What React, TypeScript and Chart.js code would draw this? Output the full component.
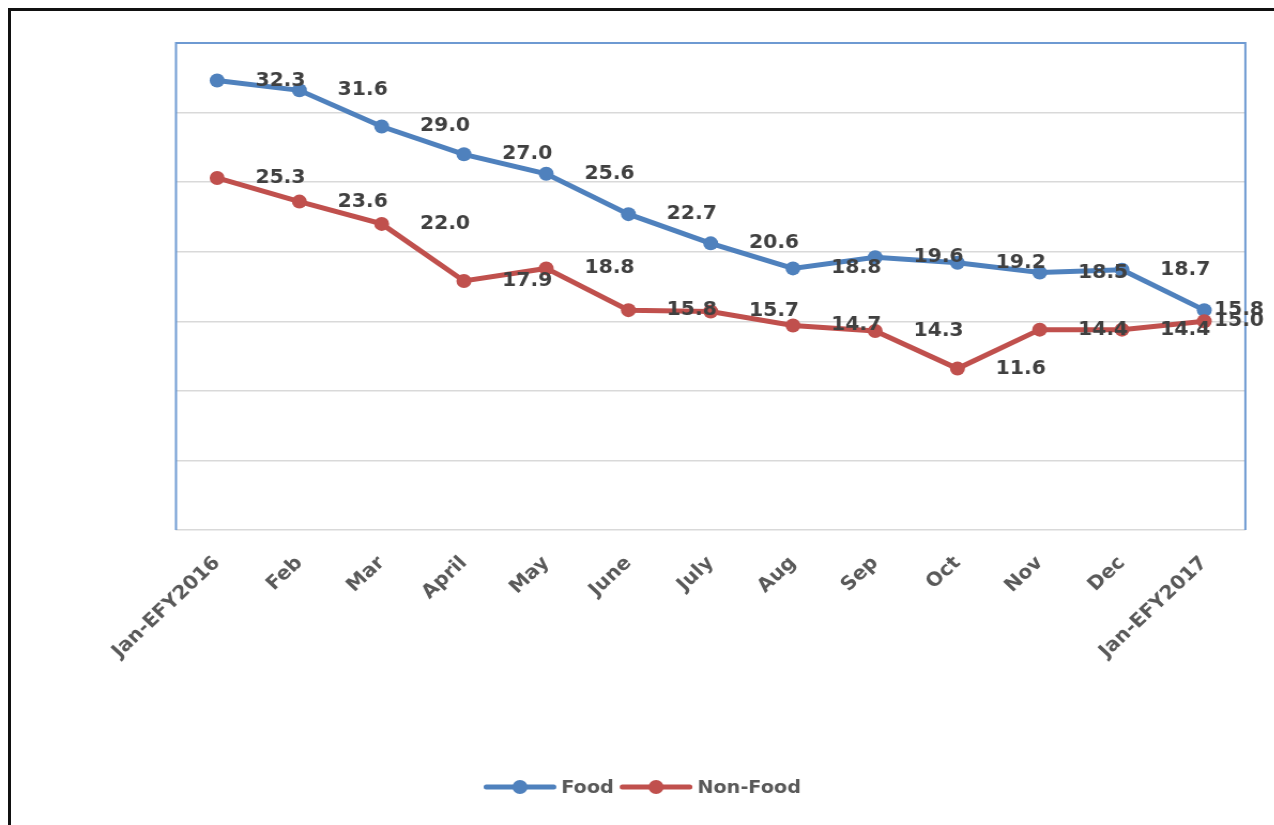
import React, { useEffect, useRef } from "react";
import { Chart, registerables } from "chart.js";

Chart.register(...registerables);

const categories = [
  "Jan-EFY2016", "Feb", "Mar", "April", "May", "June", "July",
  "Aug", "Sep", "Oct", "Nov", "Dec", "Jan-EFY2017",
];
const foodValues = [32.3, 31.6, 29.0, 27.0, 25.6, 22.7, 20.6, 18.8, 19.6, 19.2, 18.5, 18.7, 15.8];
const nonFoodValues = [25.3, 23.6, 22.0, 17.9, 18.8, 15.8, 15.7, 14.7, 14.3, 11.6, 14.4, 14.4, 15.0];
const seriesNames = ["Food", "Non-Food"];
const seriesColors = ["#4F81BD", "#C0504D"];
const yMin = 0;
const yMax = 35;
const yStep = 5;

const W = 1274;
const H = 825;
// the reference picture is slightly stretched horizontally
const SX = 1.07;
const CW = Math.round(W / SX);
const FONT = "'DejaVu Sans', Verdana, sans-serif";

const plotBorderPlugin = {
  id: "plotBorder",
  beforeDatasetsDraw(chart: any) {
    const { ctx, chartArea } = chart;
    ctx.save();
    ctx.strokeStyle = "#6E9AD2";
    ctx.lineWidth = 2;
    ctx.beginPath();
    ctx.moveTo(chartArea.left, chartArea.bottom);
    ctx.lineTo(chartArea.left, chartArea.top);
    ctx.lineTo(chartArea.right, chartArea.top);
    ctx.lineTo(chartArea.right, chartArea.bottom);
    ctx.stroke();
    ctx.restore();
  },
};

const pointLabelPlugin = {
  id: "pointLabels",
  afterDatasetsDraw(chart: any) {
    const ctx = chart.ctx;
    ctx.save();
    ctx.font = `bold 19px ${FONT}`;
    ctx.fillStyle = "#404040";
    ctx.textBaseline = "middle";
    chart.data.datasets.forEach((ds: any, di: number) => {
      const meta = chart.getDatasetMeta(di);
      const pts = meta.data;
      const step = pts.length > 1 ? pts[1].x - pts[0].x : 0;
      pts.forEach((pt: any, i: number) => {
        const txt = Number(ds.data[i]).toFixed(1);
        if (i === pts.length - 1) {
          ctx.textAlign = "left";
          ctx.fillText(txt, pt.x + 9, pt.y);
        } else {
          ctx.textAlign = "center";
          ctx.fillText(txt, pt.x + step * 0.77, pt.y);
        }
      });
    });
    ctx.restore();
  },
};

const legendPlugin = {
  id: "customLegend",
  afterDraw(chart: any) {
    const ctx = chart.ctx;
    ctx.save();
    ctx.font = `bold 18px ${FONT}`;
    ctx.textBaseline = "middle";
    ctx.textAlign = "left";
    const markerW = 67;
    const gapMarkerText = 5;
    const gapItems = 6;
    const items = chart.data.datasets.map((ds: any) => ({
      label: ds.label,
      color: ds.borderColor,
      tw: ctx.measureText(ds.label).width,
    }));
    const total =
      items.reduce((s: number, it: any) => s + markerW + gapMarkerText + it.tw, 0) +
      gapItems * (items.length - 1);
    let x = chart.width / 2 + 5 - total / 2;
    const y = 787;
    items.forEach((it: any) => {
      ctx.strokeStyle = it.color;
      ctx.lineWidth = 5;
      ctx.lineCap = "round";
      ctx.beginPath();
      ctx.moveTo(x + 2, y);
      ctx.lineTo(x + markerW - 2, y);
      ctx.stroke();
      ctx.fillStyle = it.color;
      ctx.beginPath();
      ctx.arc(x + markerW / 2, y, 7, 0, Math.PI * 2);
      ctx.fill();
      x += markerW + gapMarkerText;
      ctx.fillStyle = "#595959";
      ctx.fillText(it.label, x, y + 1);
      x += it.tw + gapItems;
    });
    ctx.restore();
  },
};

export default function App() {
  const canvasRef = useRef<HTMLCanvasElement | null>(null);

  useEffect(() => {
    if (!canvasRef.current) return;
    const chart = new Chart(canvasRef.current, {
      type: "line",
      data: {
        labels: categories,
        datasets: [
          {
            label: seriesNames[0],
            data: foodValues,
            borderColor: seriesColors[0],
            backgroundColor: seriesColors[0],
            borderWidth: 5,
            pointRadius: 7,
            pointHoverRadius: 7,
            pointBorderWidth: 0,
            tension: 0,
            order: 2,
          },
          {
            label: seriesNames[1],
            data: nonFoodValues,
            borderColor: seriesColors[1],
            backgroundColor: seriesColors[1],
            borderWidth: 5,
            pointRadius: 7,
            pointHoverRadius: 7,
            pointBorderWidth: 0,
            tension: 0,
            order: 1,
          },
        ],
      },
      options: {
        responsive: false,
        animation: false,
        devicePixelRatio: 1,
        layout: {
          padding: {
            left: 176 / SX,
            top: 43,
            right: (W - 1245) / SX,
            bottom: H - 530 - 150,
          },
        },
        plugins: {
          legend: { display: false },
          tooltip: { enabled: false },
          title: { display: false },
        },
        scales: {
          x: {
            offset: true,
            grid: { display: false, drawTicks: false },
            border: { display: false },
            ticks: {
              autoSkip: false,
              maxRotation: 45,
              minRotation: 45,
              padding: 22,
              color: "#595959",
              font: { family: FONT, size: 19, weight: "bold" },
            },
            afterFit: (scale: any) => {
              scale.height = 150;
            },
          },
          y: {
            min: yMin,
            max: yMax,
            ticks: { display: false, stepSize: yStep },
            grid: { color: "#D9D9D9", lineWidth: 1.5, drawTicks: false },
            border: { display: false },
            afterFit: (scale: any) => {
              scale.width = 0;
            },
          },
        },
      },
      plugins: [plotBorderPlugin, pointLabelPlugin, legendPlugin],
    });
    return () => chart.destroy();
  }, []);

  return (
    <div style={{ position: "fixed", left: 0, top: 0, width: W, height: H, background: "#fff", overflow: "hidden" }}>
      <div
        style={{
          position: "absolute",
          left: 0,
          top: 0,
          width: CW,
          height: H,
          transform: `scaleX(${SX})`,
          transformOrigin: "0 0",
        }}
      >
        <canvas ref={canvasRef} width={CW} height={H} style={{ display: "block", width: CW, height: H }} />
      </div>
      <div
        style={{
          position: "absolute",
          left: 8,
          top: 8,
          width: W,
          height: H,
          borderTop: "3px solid #111",
          borderLeft: "3px solid #111",
          pointerEvents: "none",
        }}
      />
    </div>
  );
}
